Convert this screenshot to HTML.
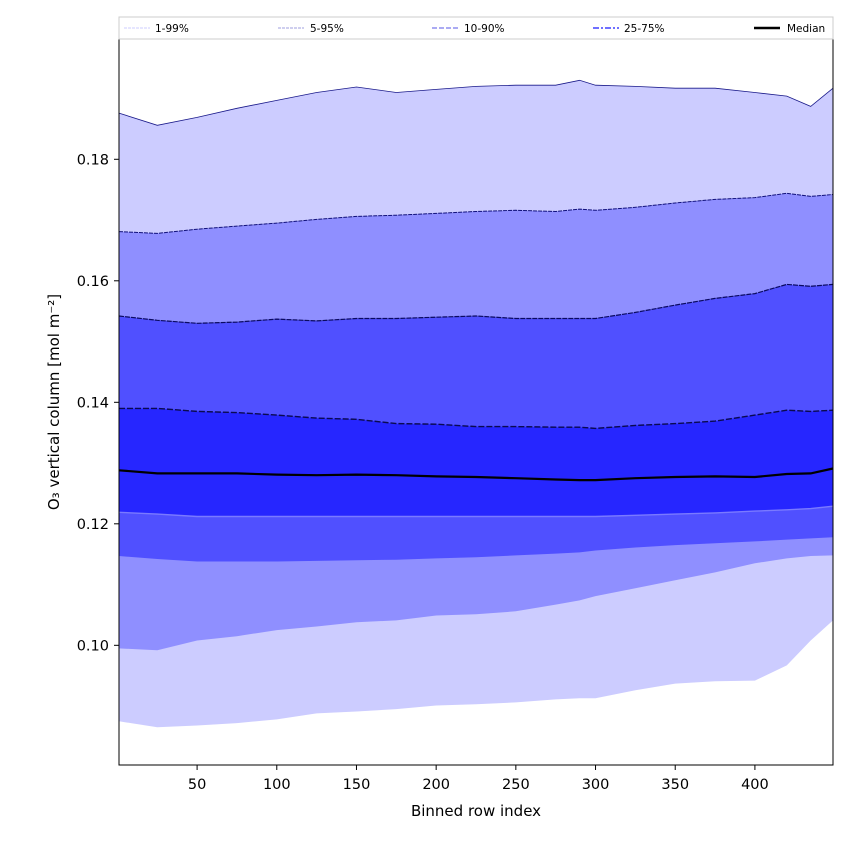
<!DOCTYPE html>
<html><head><meta charset="utf-8"><style>
body{margin:0;background:#fff;}
svg{display:block;font-family:"DejaVu Sans","Liberation Sans",sans-serif;}
</style></head><body>
<svg id="chart" width="850" height="850">
<g id="bands"></g>
<g id="lines"></g>
<rect x="119" y="39" width="714" height="726" fill="none" stroke="#000" stroke-width="1"/>
<g id="xticks"></g><g id="yticks"></g>
<text x="476" y="816" text-anchor="middle" font-size="15">Binned row index</text>
<text transform="translate(59,402) rotate(-90)" text-anchor="middle" font-size="15">O₃ vertical column [mol m⁻²]</text>
<g>
<rect x="119" y="17" width="714" height="22" fill="#fff" stroke="#ccc" stroke-width="1"/>
<g><line x1="124" y1="28" x2="150" y2="28" stroke="#ccccff" stroke-dasharray="3,1"/><text x="155" y="32" font-size="10.5">1-99%</text></g>
<g><line x1="278" y1="28" x2="304" y2="28" stroke="#9f9fdf" stroke-dasharray="3,1"/><text x="310" y="32" font-size="10.5">5-95%</text></g>
<g><line x1="432" y1="28" x2="458" y2="28" stroke="#8f8fef" stroke-width="1.5" stroke-dasharray="5,2"/><text x="464" y="32" font-size="10.5">10-90%</text></g>
<g><line x1="593" y1="28" x2="619" y2="28" stroke="#7070ff" stroke-width="2" stroke-dasharray="6,2,2,2"/><text x="624" y="32" font-size="10.5">25-75%</text></g>
<g><line x1="754" y1="28" x2="780" y2="28" stroke="#000" stroke-width="2.5"/><text x="787" y="32" font-size="10.5">Median</text></g>
</g>
</svg>
<script>
const rows=[1,25,50,75,100,125,150,175,200,225,250,275,290,300,325,350,375,400,420,435,449];
const p99=[0.1876,0.1856,0.1869,0.1884,0.1897,0.1910,0.1919,0.1910,0.1915,0.1920,0.1922,0.1922,0.1930,0.1922,0.1920,0.1917,0.1917,0.1910,0.1904,0.1887,0.1917];
const p95=[0.1681,0.1678,0.1685,0.1690,0.1695,0.1701,0.1706,0.1708,0.1711,0.1714,0.1716,0.1714,0.1718,0.1716,0.1721,0.1728,0.1734,0.1737,0.1744,0.1739,0.1742];
const p90=[0.1542,0.1535,0.1530,0.1532,0.1537,0.1534,0.1538,0.1538,0.1540,0.1542,0.1538,0.1538,0.1538,0.1538,0.1548,0.1560,0.1571,0.1579,0.1594,0.1591,0.1594];
const p75=[0.1390,0.1390,0.1385,0.1383,0.1379,0.1374,0.1372,0.1365,0.1364,0.1360,0.1360,0.1359,0.1359,0.1357,0.1362,0.1365,0.1369,0.1379,0.1387,0.1385,0.1387];
const p50=[0.1288,0.1283,0.1283,0.1283,0.1281,0.1280,0.1281,0.1280,0.1278,0.1277,0.1275,0.1273,0.1272,0.1272,0.1275,0.1277,0.1278,0.1277,0.1282,0.1283,0.1291];
const p25=[0.1219,0.1216,0.1212,0.1212,0.1212,0.1212,0.1212,0.1212,0.1212,0.1212,0.1212,0.1212,0.1212,0.1212,0.1214,0.1216,0.1218,0.1221,0.1223,0.1225,0.1229];
const p10=[0.1147,0.1142,0.1138,0.1138,0.1138,0.1139,0.1140,0.1141,0.1143,0.1145,0.1148,0.1151,0.1153,0.1156,0.1161,0.1165,0.1168,0.1171,0.1174,0.1176,0.1178];
const p5=[0.0995,0.0992,0.1008,0.1015,0.1025,0.1031,0.1038,0.1041,0.1049,0.1051,0.1056,0.1067,0.1074,0.1081,0.1094,0.1107,0.1120,0.1135,0.1143,0.1147,0.1148];
const p1=[0.0875,0.0865,0.0868,0.0872,0.0878,0.0888,0.0891,0.0895,0.0901,0.0903,0.0906,0.0911,0.0913,0.0913,0.0926,0.0937,0.0941,0.0942,0.0967,0.1008,0.1041];
const xTicks=[50,100,150,200,250,300,350,400];
const yTicks=[0.10,0.12,0.14,0.16,0.18];
const X0=119,X1=833,Y0=39,Y1=765,xmin=1,xmax=449,ymin=0.0803,ymax=0.1998;
const xs=v=>X0+(v-xmin)/(xmax-xmin)*(X1-X0);
const ys=v=>Y1-(v-ymin)/(ymax-ymin)*(Y1-Y0);
const NS='http://www.w3.org/2000/svg';
const pts=a=>a.map((v,i)=>xs(rows[i]).toFixed(1)+','+ys(v).toFixed(1));
function band(lo,hi,color,name){
  const p=document.createElementNS(NS,'polygon');
  p.setAttribute('points',pts(hi).concat(pts(lo).reverse()).join(' '));
  p.setAttribute('fill',color);
  
  
  document.getElementById('bands').appendChild(p);
}
function line(a,color,w,dash,name){
  const p=document.createElementNS(NS,'polyline');
  p.setAttribute('points',pts(a).join(' '));
  p.setAttribute('fill','none');p.setAttribute('stroke',color);p.setAttribute('stroke-width',w);
  if(dash)p.setAttribute('stroke-dasharray',dash);
  
  
  document.getElementById('lines').appendChild(p);
}
band(p1,p99,'#ccccff','band-1-99');
band(p5,p95,'#8f8fff','band-5-95');
band(p10,p90,'#5050ff','band-10-90');
band(p25,p75,'#2626ff','band-25-75');
line(p99,'#1a1a8a',0.8,null,'line-p99');
line(p95,'#10107a',1,'4,1','line-p95');
line(p90,'#0a0a60',1.2,'5,1','line-p90');
line(p75,'#0a0a50',1.4,'6,2','line-p75');
line(p25,'#7a7aff',1.4,null,'line-p25');
line(p50,'#000',2.2,null,'median-line');
const xt=document.getElementById('xticks');
xTicks.forEach(t=>{
  const g=document.createElementNS(NS,'g');
  
  
  const x=xs(t);
  g.innerHTML=`<line x1="${x}" y1="765" x2="${x}" y2="770" stroke="#000"/><text x="${x}" y="789" text-anchor="middle" font-size="14.5">${t}</text>`;
  xt.appendChild(g);
});
const yt=document.getElementById('yticks');
yTicks.forEach(t=>{
  const g=document.createElementNS(NS,'g');
  
  
  const y=ys(t);
  g.innerHTML=`<line x1="114" y1="${y}" x2="119" y2="${y}" stroke="#000"/><text x="109" y="${y+5}" text-anchor="end" font-size="14.5">${t.toFixed(2)}</text>`;
  yt.appendChild(g);
});
</script>
</body></html>
